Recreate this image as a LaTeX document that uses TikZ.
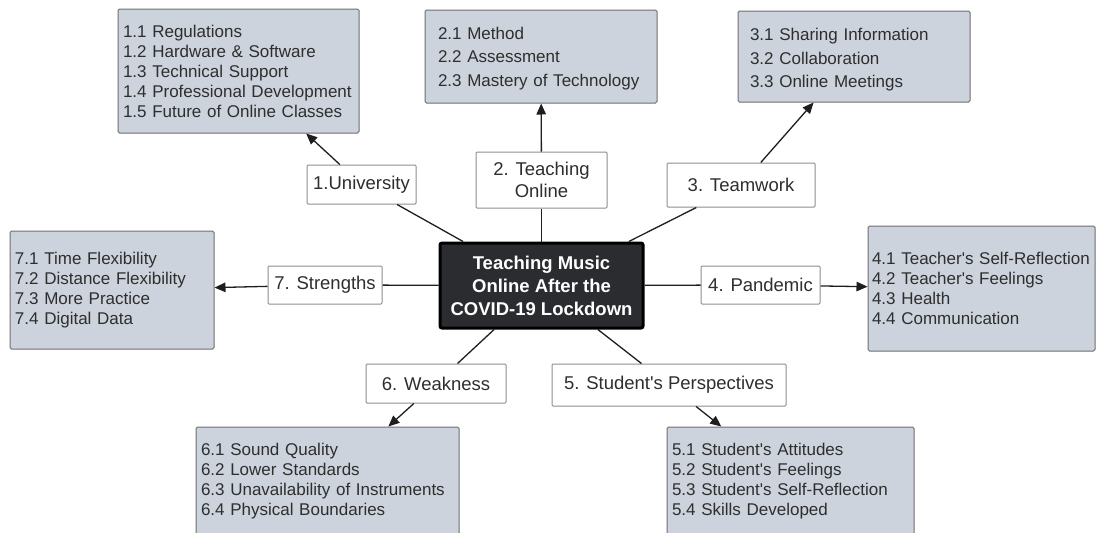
\documentclass[tikz,border=0pt]{standalone}
\usepackage{fontspec}
\setmainfont{Liberation Sans}[Ligatures=TeXOff]
\usetikzlibrary{arrows.meta}
\definecolor{boxfill}{HTML}{CDD3DC}
\definecolor{boxline}{HTML}{6E6E6E}
\definecolor{labline}{HTML}{8E8E8E}
\definecolor{textdark}{HTML}{2E2E2E}
\definecolor{hubfill}{HTML}{2A2C30}
\definecolor{wire}{HTML}{1E1E1E}
\begin{document}
\begin{tikzpicture}[x=1pt,y=-1pt,
  itembox/.style={draw=boxline, fill=boxfill, line width=1pt, rounded corners=1.5pt,
    align=left, inner xsep=5pt, inner ysep=0pt, text=textdark,
    font=\fontsize{17}{20}\selectfont},
  topic/.style={draw=labline, fill=white, line width=1pt, rounded corners=1pt,
    align=center, inner sep=0pt, text=textdark,
    font=\fontsize{18.5}{22}\selectfont},
  hub/.style={draw=black, fill=hubfill, line width=3pt, rounded corners=2pt,
    align=center, inner sep=0pt, text=white,
    font=\bfseries\fontsize{18.5}{23}\selectfont},
  link/.style={draw=wire, line width=1.3pt},
  arrowlink/.style={link, -{Triangle[length=11pt,width=9.5pt]}}]
\useasboundingbox (0,0) rectangle (1096,533);
\clip (0,0) rectangle (1096,533);

% central topic
\node[hub, minimum width=203, minimum height=85] (c) at (541.5,285.5)
  {Teaching Music\\Online After the\\COVID-19 Lockdown};

% theme labels
\node[topic, minimum width=109, minimum height=39] (l1) at (361.5,184.5) {1.University};
\node[topic, minimum width=131, minimum height=56] (l2) at (541.5,180) {2. Teaching\\Online};
\node[topic, minimum width=148, minimum height=44] (l3) at (741,185) {3. Teamwork};
\node[topic, minimum width=119, minimum height=38] (l4) at (760.5,285) {4. Pandemic};
\node[topic, minimum width=234, minimum height=42] (l5) at (669,385) {5. Student's Perspectives};
\node[topic, minimum width=140, minimum height=39] (l6) at (436,383.5) {6. Weakness};
\node[topic, minimum width=114, minimum height=38] (l7) at (325,285) {7. Strengths};

% sub-theme boxes
\node[itembox, text width=231, minimum height=124] (b1) at (238.5,71)
  {1.1 Regulations\\1.2 Hardware \& Software\\1.3 Technical Support\\1.4 Professional Development\\1.5 Future of Online Classes};
\node[itembox, inner xsep=13pt, text width=206, minimum height=93,
  font=\fontsize{17}{23.5}\selectfont] (b2) at (541,56.5)
  {\rule{0pt}{16pt}2.1 Method\\2.2 Assessment\\2.3 Mastery of Technology};
\node[itembox, inner xsep=12pt, text width=208, minimum height=91,
  font=\fontsize{17}{23.5}\selectfont] (b3) at (854,56.5)
  {\rule{0pt}{19pt}3.1 Sharing Information\\3.2 Collaboration\\3.3 Online Meetings};
\node[itembox, inner xsep=4pt, text width=219, minimum height=125] (b4) at (981.5,288.5)
  {4.1 Teacher's Self-Reflection\\4.2 Teacher's Feelings\\4.3 Health\\4.4 Communication};
\node[itembox, text width=237, minimum height=109] (b5) at (790.5,481.5)
  {5.1 Student's Attitudes\\5.2 Student's Feelings\\5.3 Student's Self-Reflection\\5.4 Skills Developed};
\node[itembox, text width=253, minimum height=109] (b6) at (327.5,481.5)
  {6.1 Sound Quality\\6.2 Lower Standards\\6.3 Unavailability of Instruments\\6.4 Physical Boundaries};
\node[itembox, text width=194, minimum height=118] (b7) at (112,290)
  {7.1 Time Flexibility\\7.2 Distance Flexibility\\7.3 More Practice\\7.4 Digital Data};

% spokes from the centre to each theme
\foreach \t in {l1,l2,l3,l4,l5,l6,l7}
  \draw[link] (c) -- (\t);

% arrows from each theme to its sub-themes
\draw[arrowlink] (l1) -- (b1);
\draw[arrowlink] (l2) -- (b2);
\draw[arrowlink] (l3) -- (b3);
\draw[arrowlink] (l4) -- (b4);
\draw[arrowlink] (l5) -- (b5);
\draw[arrowlink] (l6) -- (b6);
\draw[arrowlink] (l7) -- (b7);
\end{tikzpicture}
\end{document}
